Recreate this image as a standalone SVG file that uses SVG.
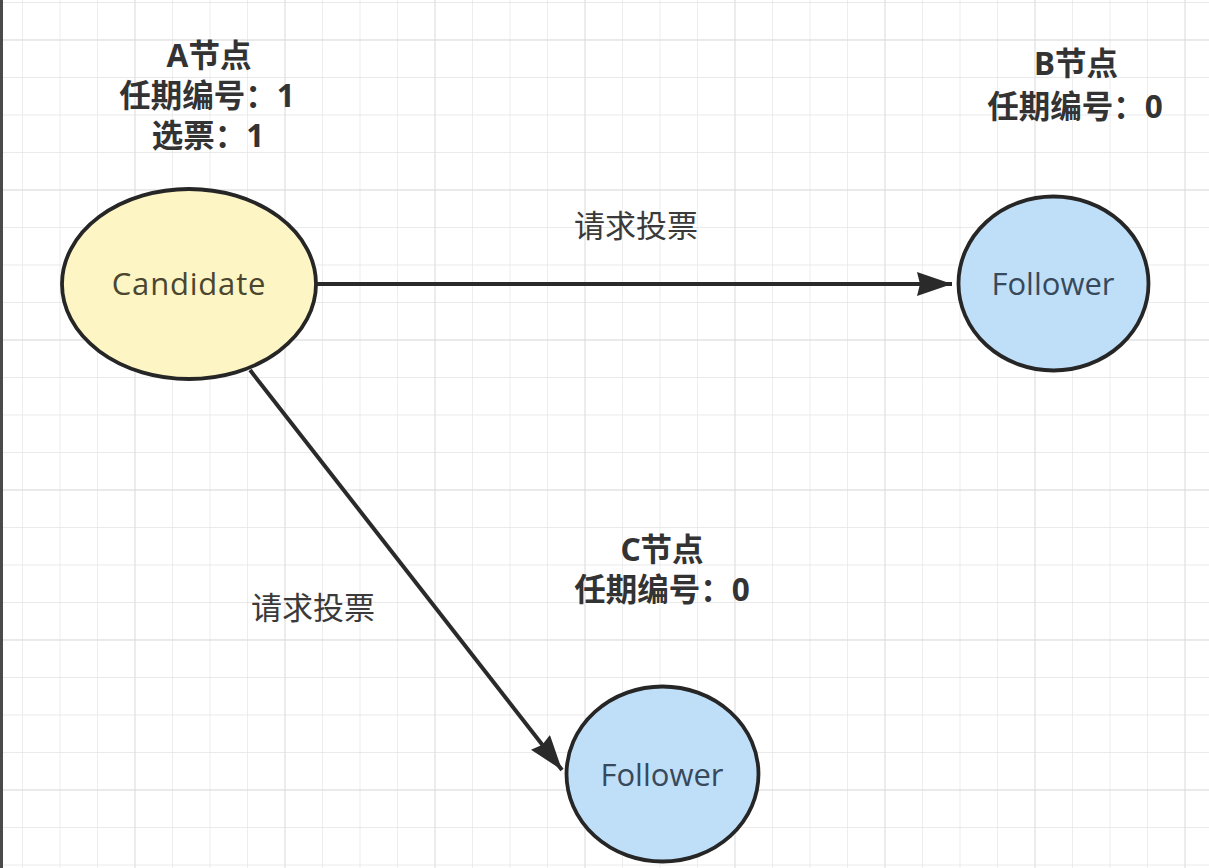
<svg xmlns="http://www.w3.org/2000/svg" width="1209" height="868" viewBox="0 0 1209 868">
  <defs>
    <pattern id="minor" patternUnits="userSpaceOnUse" x="22" y="2" width="37.5" height="37.5">
      <path d="M0 0 V37.5 M0 0 H37.5" fill="none" stroke="#e4e4e4" stroke-width="1.3"/>
    </pattern>
    <pattern id="major" patternUnits="userSpaceOnUse" x="134.5" y="39.5" width="150" height="150">
      <path d="M0 0 V150 M0 0 H150" fill="none" stroke="#d8d8d8" stroke-width="1.3"/>
    </pattern>
    <marker id="arrow" markerUnits="userSpaceOnUse" markerWidth="38" markerHeight="26" refX="35" refY="12" orient="auto">
      <path d="M0 0 L35 12 L0 24 L3 12 Z" fill="#2a2a2a"/>
    </marker>
    <style>
      .node { stroke: #262626; stroke-width: 3.8; }
      .cand { fill: #fdf5c4; }
      .fol { fill: #bfdff9; }
      .ntext { font-family: "Open Sans", "Noto Sans", sans-serif; font-size: 31px; text-anchor: middle; }
      .head { font-family: "Noto Sans", "Noto Sans CJK SC", sans-serif; font-size: 31.5px; font-weight: bold; fill: #333; text-anchor: middle; }
      .elabel { font-family: "Noto Sans", "Noto Sans CJK SC", sans-serif; font-size: 31px; fill: #3a3a3a; text-anchor: middle; }
      .edge { stroke: #2a2a2a; stroke-width: 4; fill: none; }
    </style>
  </defs>
  <rect width="1209" height="868" fill="#ffffff"/>
  <rect width="1209" height="868" fill="url(#minor)"/>
  <rect width="1209" height="868" fill="url(#major)"/>
  <rect x="0" y="0" width="3" height="868" fill="#4a4a4a"/>

  <g id="connectors">
    <path class="edge" d="M317 284 H952" marker-end="url(#arrow)"/>
    <path class="edge" d="M250 370 L562 770" marker-end="url(#arrow)"/>
    <text class="elabel" x="636" y="237">请求投票</text>
    <text class="elabel" x="313" y="619">请求投票</text>
  </g>

  <g id="node-a">
    <text class="head" x="209" y="67">A节点</text>
    <text class="head" x="207" y="107">任期编号：1</text>
    <text class="head" x="208" y="147">选票：1</text>
    <ellipse class="node cand" cx="189" cy="284" rx="127" ry="95"/>
    <text class="ntext" x="189" y="295" fill="#4a4630" letter-spacing="0.8">Candidate</text>
  </g>

  <g id="node-b">
    <text class="head" x="1076" y="75">B节点</text>
    <text class="head" x="1075" y="118">任期编号：0</text>
    <ellipse class="node fol" cx="1053.5" cy="283.5" rx="95" ry="87"/>
    <text class="ntext" x="1053" y="295" fill="#37495a">Follower</text>
  </g>

  <g id="node-c">
    <text class="head" x="662" y="561">C节点</text>
    <text class="head" x="662" y="601">任期编号：0</text>
    <ellipse class="node fol" cx="662.5" cy="774" rx="96" ry="87.5"/>
    <text class="ntext" x="662" y="786" fill="#37495a">Follower</text>
  </g>
</svg>
